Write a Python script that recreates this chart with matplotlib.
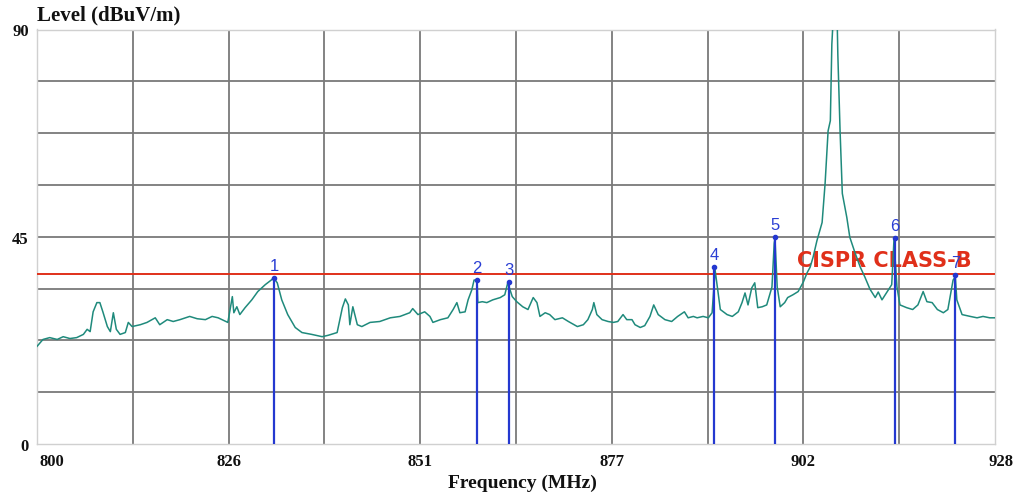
import matplotlib
matplotlib.use("Agg")
import matplotlib.pyplot as plt
import numpy as np

# ---- data ----
freq_mhz = [
    800.0, 800.8, 801.7, 802.7, 803.5, 804.4, 805.3, 806.2, 806.7, 807.1,
    807.5, 808.0, 808.4, 808.8, 809.4, 809.8, 810.2, 810.6, 811.1, 811.8,
    812.2, 812.7, 813.8, 814.7, 815.8, 816.4, 817.4, 818.2, 819.1, 820.4,
    821.4, 822.5, 823.4, 824.2, 825.5, 826.1, 826.3, 826.7, 827.1, 827.8,
    828.7, 829.5, 830.5, 831.3, 831.6, 832.1, 832.7, 833.5, 834.5, 835.4,
    836.7, 838.1, 838.9, 840.1, 840.8, 841.2, 841.6, 841.8, 842.2, 842.8,
    843.4, 844.5, 845.8, 847.2, 848.5, 849.8, 850.2, 850.9, 851.8, 852.5,
    852.9, 853.9, 854.9, 855.6, 856.1, 856.5, 857.2, 857.6, 858.1, 858.4,
    858.8, 858.9, 859.5, 860.1, 860.9, 861.9, 862.5, 862.9, 863.5, 864.1,
    864.9, 865.6, 866.3, 866.8, 867.2, 867.9, 868.5, 869.2, 870.2, 871.0,
    872.2, 873.0, 873.6, 874.2, 874.4, 874.8, 875.5, 876.3, 877.0, 877.6,
    878.3, 878.8, 879.5, 879.9, 880.6, 881.2, 881.9, 882.4, 883.0, 883.9,
    884.8, 885.6, 886.5, 887.0, 887.7, 888.2, 889.0, 889.7, 890.2, 890.5,
    890.6, 890.9, 891.3, 892.2, 892.9, 893.7, 894.2, 894.6, 895.0, 895.5,
    895.9, 896.3, 896.9, 897.5, 898.2, 898.5, 898.6, 898.9, 899.3, 899.9,
    900.3, 901.0, 901.7, 902.4, 902.9, 903.3, 903.7, 904.2, 904.9, 905.3,
    905.7, 906.0, 906.2, 906.4, 906.9, 907.0, 907.3, 907.6, 908.2, 908.6,
    909.3, 910.0, 910.6, 911.3, 912.0, 912.4, 912.9, 913.6, 914.2, 914.5,
    914.9, 915.3, 916.2, 917.0, 917.7, 918.4, 918.9, 919.6, 920.3, 921.1,
    921.7, 922.4, 922.7, 922.9, 923.6, 924.7, 925.6, 926.4, 927.3, 928.0,
]
level_dbuv = [
    21.2, 22.7, 23.1, 22.7, 23.3, 22.9, 23.1, 23.8, 24.9, 24.4,
    28.7, 30.7, 30.7, 28.7, 25.5, 24.4, 28.5, 24.9, 23.8, 24.2,
    26.4, 25.5, 25.9, 26.4, 27.4, 25.9, 27.0, 26.6, 27.0, 27.7,
    27.2, 27.0, 27.7, 27.4, 26.4, 32.0, 28.5, 29.8, 28.1, 29.6,
    31.3, 33.1, 34.6, 35.6, 36.1, 35.0, 31.3, 28.1, 25.3, 24.2,
    23.8, 23.3, 23.6, 24.2, 29.6, 31.5, 30.2, 25.9, 29.8, 25.9,
    25.5, 26.4, 26.6, 27.4, 27.7, 28.5, 29.4, 28.1, 28.7, 27.7,
    26.4, 27.0, 27.4, 29.2, 30.7, 28.5, 28.7, 31.3, 33.5, 35.6,
    35.6, 30.7, 30.9, 30.7, 31.3, 31.8, 32.4, 35.0, 32.0, 30.9,
    29.8, 29.2, 31.8, 30.7, 27.7, 28.5, 28.1, 27.0, 27.4, 26.6,
    25.5, 25.9, 27.0, 29.2, 30.7, 28.1, 27.0, 26.6, 26.4, 26.6,
    28.1, 27.0, 27.0, 25.9, 25.3, 25.7, 27.7, 30.2, 28.1, 27.0,
    26.6, 27.7, 28.7, 27.4, 27.7, 27.4, 27.7, 27.4, 28.5, 35.6,
    37.8, 34.1, 29.2, 28.1, 27.7, 28.7, 30.7, 32.8, 30.2, 33.9,
    35.0, 29.6, 29.8, 30.2, 34.1, 43.6, 44.7, 34.1, 29.8, 30.7,
    31.8, 32.4, 33.1, 35.2, 37.2, 38.4, 40.6, 44.1, 48.1, 56.6,
    68.0, 70.2, 86.8, 93.0, 93.0, 84.6, 68.0, 54.4, 49.2, 44.9,
    41.5, 38.4, 36.3, 33.6, 31.8, 33.0, 31.3, 33.1, 34.6, 44.3,
    34.1, 30.2, 29.6, 29.2, 30.2, 33.1, 30.9, 30.7, 29.2, 28.5,
    29.2, 35.6, 36.3, 31.3, 28.1, 27.7, 27.4, 27.7, 27.4, 27.4,
]

marker_ids = ["1", "2", "3", "4", "5", "6", "7"]
marker_freq = [831.7, 858.8, 863.1, 890.5, 898.6, 914.6, 922.7]
marker_level = [36.0, 35.6, 35.2, 38.4, 44.9, 44.7, 36.6]

limit_level = 37.0
limit_label = "CISPR CLASS-B"

x_min, x_max = 800.0, 928.0
y_min, y_max = 0.0, 90.0
x_tick_labels = ["800", "826", "851", "877", "902", "928"]
y_tick_labels = ["0", "45", "90"]

# ---- figure ----
W, H = 1023, 496
fig = plt.figure(figsize=(W / 100, H / 100), dpi=100)
fig.patch.set_facecolor("white")
ax = fig.add_axes([37 / W, 1 - 444 / H, (995 - 37) / W, (444 - 29.5) / H])
ax.set_xlim(x_min, x_max)
ax.set_ylim(y_min, y_max)

# grid: 10 x 8 divisions
for xv in np.linspace(x_min, x_max, 11)[1:-1]:
    ax.axvline(xv, color="#7a7a7a", lw=1.3, zorder=1)
for yv in np.linspace(y_min, y_max, 9)[1:-1]:
    ax.axhline(yv, color="#7a7a7a", lw=1.3, zorder=1)

for s in ax.spines.values():
    s.set_color("#d0d0d0")
    s.set_linewidth(1.0)

ax.set_xticks([])
ax.set_yticks([])

serif = ["Liberation Serif", "DejaVu Serif"]
# x tick labels at every other grid line
x_tick_pos = np.linspace(x_min, x_max, 6)
for i, (xp, lab) in enumerate(zip(x_tick_pos, x_tick_labels)):
    ha = "center"
    dx = 0
    if i == 0:
        ha, dx = "left", 3
    elif i == len(x_tick_labels) - 1:
        dx = 6
    ax.annotate(lab, xy=(xp, 0), xycoords=("data", "axes fraction"),
                xytext=(dx * 0.72, -18 * 0.72), textcoords="offset points",
                ha=ha, va="center", fontsize=12, fontweight="bold",
                family=serif, color="#111111")

y_tick_pos = np.linspace(y_min, y_max, 3)
for yp, lab in zip(y_tick_pos, y_tick_labels):
    ax.annotate(lab, xy=(0, yp), xycoords=("axes fraction", "data"),
                xytext=(-6, -2), textcoords="offset points",
                ha="right", va="center", fontsize=12, fontweight="bold",
                family=serif, color="#111111")

fig.text(37 / W, 1 - 15 / H, "Level (dBuV/m)", ha="left", va="center",
         fontsize=15, fontweight="bold", family=serif, color="#111111")
fig.text(522 / W, 1 - 483 / H, "Frequency (MHz)", ha="center", va="center",
         fontsize=14, fontweight="bold", family=serif, color="#111111")

# limit line
ax.axhline(limit_level, color="#e0301a", lw=1.4, zorder=3)
ax.text(901.5, limit_level + 1.4, limit_label, color="#e0301a",
        fontsize=15, fontweight="bold", ha="left", va="baseline",
        family=["DejaVu Sans"], zorder=4)

# trace
ax.plot(freq_mhz, level_dbuv, color="#1f8a7c", lw=1.1, zorder=5)

# markers
for mid, mf, ml in zip(marker_ids, marker_freq, marker_level):
    ax.plot([mf, mf], [0, ml], color="#2438d0", lw=1.6, zorder=6)
    ax.plot([mf], [ml], marker="o", ms=3, color="#2438d0", zorder=6)
    ax.annotate(mid, xy=(mf, ml), xytext=(0, 3), textcoords="offset points",
                ha="center", va="bottom", fontsize=12, color="#2a3ed4",
                family=["Liberation Sans", "DejaVu Sans"], zorder=7)

fig.savefig("out.png", dpi=100)
